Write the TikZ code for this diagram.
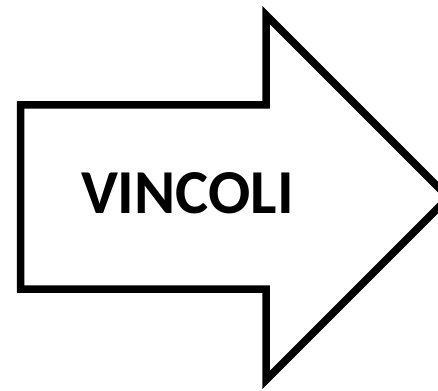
\documentclass[tikz,border=0pt]{standalone}
\usepackage{fontspec}
\setmainfont{Carlito}
\begin{document}
\begin{tikzpicture}[x=1pt,y=-1pt,
  arrowshape/.style={draw=black,line width=7.5pt,miter limit=10,line join=miter,fill=white},
  label/.style={font=\bfseries\fontsize{62.5}{62.5}\selectfont,inner sep=0pt,anchor=base}]
\useasboundingbox (0,0) rectangle (438,390);
\clip (0,0) rectangle (438,390);
\fill[white] (0,0) rectangle (438,390);
\draw[arrowshape] (20.5,105) -- (266,105) -- (266,15) -- (448.5,197.5) -- (266,380) -- (266,289) -- (20.5,289) -- cycle;
\node[label] (txt) at (187.4,213.3) {VINCOLI};
\end{tikzpicture}
\end{document}
